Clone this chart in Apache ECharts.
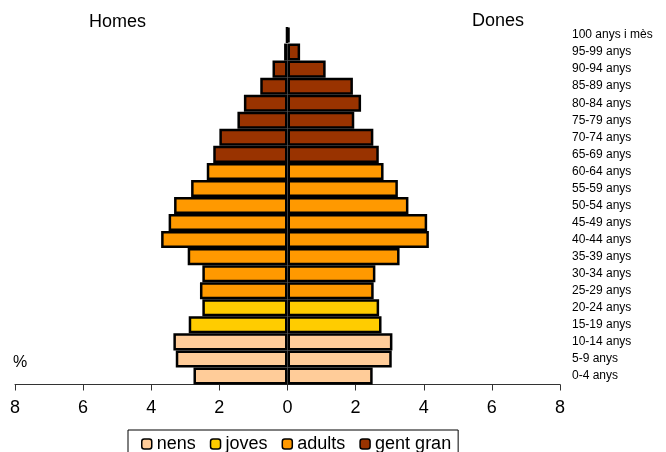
<!DOCTYPE html>
<html>
<head>
<meta charset="utf-8">
<script src="https://cdn.jsdelivr.net/npm/echarts@6/dist/echarts.min.js"></script>
<style>
	html, body { margin: 0; padding: 0; background: #fff; }
	#chart { width: 666px; height: 452px; }
</style>
</head>
<body>
<div id="chart"></div>
<script>
	// grups d'edat, de baix a dalt
	var ages = ['0-4 anys', '5-9 anys', '10-14 anys', '15-19 anys', '20-24 anys', '25-29 anys',
		'30-34 anys', '35-39 anys', '40-44 anys', '45-49 anys', '50-54 anys', '55-59 anys',
		'60-64 anys', '65-69 anys', '70-74 anys', '75-79 anys', '80-84 anys', '85-89 anys',
		'90-94 anys', '95-99 anys', '100 anys i mès'];
	// percentatges
	var homes = [2.76, 3.28, 3.35, 2.9, 2.5, 2.57, 2.5, 2.93, 3.71, 3.49, 3.33, 2.83,
		2.37, 2.18, 2.0, 1.47, 1.28, 0.8, 0.44, 0.1, 0.03];
	var dones = [2.5, 3.06, 3.08, 2.76, 2.69, 2.53, 2.58, 3.29, 4.15, 4.1, 3.55, 3.24,
		2.82, 2.68, 2.52, 1.96, 2.16, 1.92, 1.12, 0.37, 0.06];
	// grup de cada franja
	var groupOf = ['nens', 'nens', 'nens', 'joves', 'joves', 'adults', 'adults', 'adults',
		'adults', 'adults', 'adults', 'adults', 'adults', 'gent gran', 'gent gran', 'gent gran',
		'gent gran', 'gent gran', 'gent gran', 'gent gran', 'gent gran'];
	var groups = ['nens', 'joves', 'adults', 'gent gran'];
	var groupColors = ['#FFCC99', '#FFCC00', '#FF9900', '#993300'];
	var xTicks = [-8, 8, 2];

	var myChart = echarts.init(document.getElementById('chart'));

	var series = [];
	groups.forEach(function(g, gi) {
		[homes, dones].forEach(function(arr, side) {
			var data = arr.map(function(v, i) {
				if (groupOf[i] != g) return '-';
				return side == 0 ? -v : v;
			});
			series.push({
				name: g,
				type: 'bar',
				stack: 'pop',
				barCategoryGap: '0%',
				itemStyle: {
					color: groupColors[gi],
					borderColor: '#000',
					borderWidth: 2.5
				},
				emphasis: { disabled: true },
				data: data
			});
		});
	});

	var option = {
		animation: false,
		textStyle: { fontFamily: 'Liberation Sans, Arial, sans-serif' },
		grid: { left: 15, right: 106, top: 26.5, bottom: 67.5 },
		title: [
			{ text: 'Homes', left: 84, top: 8, textStyle: { fontSize: 18, fontWeight: 'normal', color: '#000' } },
			{ text: 'Dones', left: 467, top: 7, textStyle: { fontSize: 18, fontWeight: 'normal', color: '#000' } },
			{ text: '%', left: 8, top: 350, textStyle: { fontSize: 16, fontWeight: 'normal', color: '#000' } }
		],
		legend: {
			data: groups,
			left: 128,
			top: 430,
			orient: 'horizontal',
			itemWidth: 10,
			itemHeight: 10,
			itemGap: 14,
			padding: [5, 7, 12, 13],
			borderColor: '#000',
			borderWidth: 1,
			itemStyle: { borderColor: '#000', borderWidth: 1.5 },
			textStyle: { fontSize: 18, color: '#000' }
		},
		xAxis: {
			type: 'value',
			min: xTicks[0],
			max: xTicks[1],
			interval: xTicks[2],
			splitLine: { show: false },
			axisLine: { show: true, lineStyle: { color: '#333', width: 1 } },
			axisTick: { show: true, length: 6, lineStyle: { color: '#333' } },
			axisLabel: {
				fontSize: 18,
				color: '#000',
				margin: 15,
				formatter: function(v) { return Math.abs(v); }
			}
		},
		yAxis: {
			type: 'category',
			position: 'right',
			data: ages,
			axisLine: { show: false },
			axisTick: { show: false },
			axisLabel: { fontSize: 12, color: '#000', margin: 12, align: 'left' }
		},
		series: series
	};

	myChart.setOption(option);
</script>
</body>
</html>
